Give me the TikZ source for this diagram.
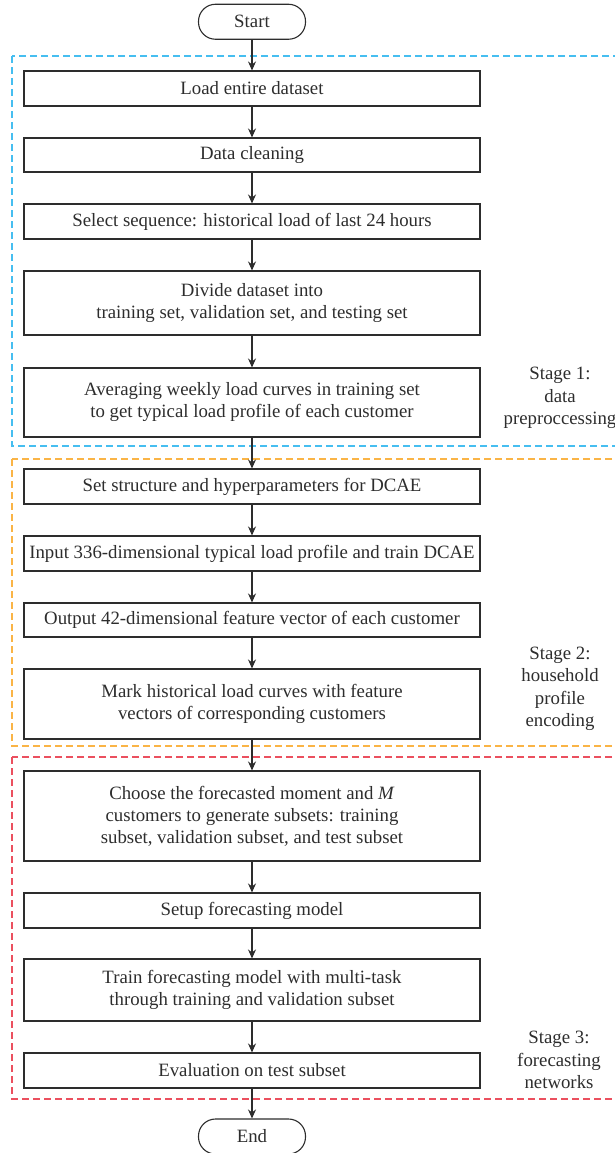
\documentclass[tikz,border=0pt]{standalone}
\usepackage{fontspec}
\setmainfont{Liberation Serif}
\usetikzlibrary{arrows.meta}
\definecolor{stageblue}{RGB}{70,190,240}
\definecolor{stageorange}{RGB}{250,180,70}
\definecolor{stagered}{RGB}{235,80,95}
\definecolor{linegray}{RGB}{45,45,45}
\begin{document}
\begin{tikzpicture}[
    x=1pt,
    y=-1pt,
    box/.style={draw=linegray, line width=1.1pt, minimum width=456pt, minimum height=35pt,
      inner sep=0pt, align=center, font=\fontsize{18.8}{22}\selectfont, text=linegray},
    term/.style={draw=linegray, line width=1.1pt, rounded corners=17pt, minimum width=107pt,
      minimum height=35pt, inner sep=0pt, font=\fontsize{18.8}{22}\selectfont, text=linegray},
    stagebox/.style={dash pattern=on 7pt off 4pt, line width=1.3pt},
    stagelabel/.style={align=center, font=\fontsize{18.8}{22.5}\selectfont, text=linegray},
    arr/.style={draw=linegray, line width=1.1pt, -{Stealth[length=9pt, width=8pt]}}
  ]
    \useasboundingbox (0,0) rectangle (614,1153);
    % stage frames
    \draw[stagebox, draw=stageblue] (12,56) rectangle (630,446);
    \draw[stagebox, draw=stageorange] (12,459) rectangle (630,746);
    \draw[stagebox, draw=stagered] (12,757) rectangle (630,1099);
    % flow
    \node[term] (start) at (252,21.75) {Start};
    \node[box] (load) at (252,88.5) {Load entire dataset};
    \node[box, minimum height=34pt] (clean) at (252,155) {Data cleaning};
    \node[box] (select) at (252,221.5) {Select sequence: historical load of last 24 hours};
    \node[box, minimum height=64pt] (divide) at (252,303) {Divide dataset into\\training set, validation set, and testing set};
    \node[box, minimum height=69pt] (average) at (252,402.5) {Averaging weekly load curves in training set\\to get typical load profile of each customer};
    \node[box] (setdcae) at (252,486.5) {Set structure and hyperparameters for DCAE};
    \node[box] (traindcae) at (252,553.5) {Input 336-dimensional typical load profile and train DCAE};
    \node[box, minimum height=34pt] (output) at (252,620) {Output 42-dimensional feature vector of each customer};
    \node[box, minimum height=70pt] (mark) at (252,704) {Mark historical load curves with feature\\vectors of corresponding customers};
    \node[box, minimum height=90pt] (choose) at (252,816) {Choose the forecasted moment and \textit{M}\\customers to generate subsets: training\\subset, validation subset, and test subset};
    \node[box] (setup) at (252,910.5) {Setup forecasting model};
    \node[box, minimum height=62pt] (trainfc) at (252,990) {Train forecasting model with multi-task\\through training and validation subset};
    \node[box] (evaluate) at (252,1070.5) {Evaluation on test subset};
    \node[term] (end) at (252,1136.5) {End};
    \foreach \a/\b in {start/load, load/clean, clean/select, select/divide, divide/average,
      average/setdcae, setdcae/traindcae, traindcae/output, output/mark, mark/choose,
      choose/setup, setup/trainfc, trainfc/evaluate, evaluate/end}
      \draw[arr] (\a) -- (\b);
    % stage labels
    \node[stagelabel] (stage1) at (560,398) {Stage 1:\\data\\preproccessing};
    \node[stagelabel] (stage2) at (560,689) {Stage 2:\\household\\profile\\encoding};
    \node[stagelabel] (stage3) at (559,1060) {Stage 3:\\forecasting\\networks};
  \end{tikzpicture}
\end{document}
